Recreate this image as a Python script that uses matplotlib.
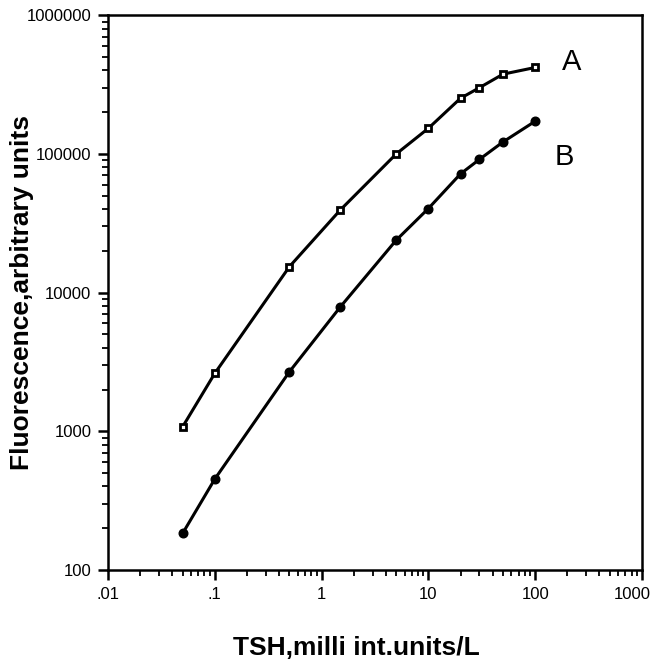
import matplotlib
matplotlib.use('Agg')
import matplotlib.pyplot as plt
import matplotlib.transforms as mtransforms
from matplotlib.ticker import LogLocator, NullFormatter

plt.rcParams['font.family'] = ['Liberation Sans', 'DejaVu Sans']

# curve A (open squares)
tsh_a = [0.05, 0.1, 0.5, 1.5, 5, 10, 20, 30, 50, 100]
fluor_a = [1080, 2620, 15400, 39500, 100000, 153000, 252000, 300000, 376000, 420000]

# curve B (filled circles)
tsh_b = [0.05, 0.1, 0.5, 1.5, 5, 10, 20, 30, 50, 100]
fluor_b = [184, 453, 2690, 7900, 23900, 40400, 71800, 91200, 122000, 172000]

x_ticks = [0.01, 0.1, 1, 10, 100, 1000]
x_labels = ['.01', '.1', '1', '10', '100', '1000']
y_ticks = [100, 1000, 10000, 100000, 1000000]
y_labels = ['100', '1000', '10000', '100000', '1000000']

fig = plt.figure(figsize=(6.55, 6.63), dpi=100)
ax = fig.add_axes([0.165, 0.1403, 0.815, 0.8367])

ax.plot(tsh_a, fluor_a, 'k-', lw=2.2, marker='s', markersize=4.8,
        markerfacecolor='white', markeredgecolor='black', markeredgewidth=2.0)
ax.plot(tsh_b, fluor_b, 'k-', lw=2.2, marker='o', markersize=6.2,
        markerfacecolor='black', markeredgecolor='black')

ax.set_xscale('log')
ax.set_yscale('log')
ax.set_xlim(0.01, 1000)
ax.set_ylim(100, 1000000)

ax.set_xticks(x_ticks)
ax.set_xticklabels(x_labels)
ax.set_yticks(y_ticks)
ax.set_yticklabels(y_labels)
ax.xaxis.set_minor_locator(LogLocator(base=10, subs=range(2, 10)))
ax.yaxis.set_minor_locator(LogLocator(base=10, subs=range(2, 10)))
ax.xaxis.set_minor_formatter(NullFormatter())
ax.yaxis.set_minor_formatter(NullFormatter())

ax.tick_params(which='major', direction='out', length=7, width=1.8,
               labelsize=12, top=False, right=False, pad=5)
ax.tick_params(which='minor', direction='out', length=4, width=1.3,
               top=False, right=False)
for s in ax.spines.values():
    s.set_linewidth(1.8)

# nudge the last x label left so it stays inside the figure
last = ax.get_xticklabels()[-1]
last.set_transform(last.get_transform() +
                   mtransforms.ScaledTranslation(-7 / 72, 0, fig.dpi_scale_trans))

ax.text(220, 458000, 'A', fontsize=21, ha='center', va='center')
ax.text(186, 95000, 'B', fontsize=21, ha='center', va='center')

ax.set_xlabel('TSH,milli int.units/L', fontsize=19, fontweight='bold', va='center')
ax.set_ylabel('Fluorescence,arbitrary units', fontsize=19, fontweight='bold', va='center')
ax.xaxis.set_label_coords(0.466, -0.1405)
ax.yaxis.set_label_coords(-0.161, 0.5)

fig.savefig('out.png', dpi=100)
